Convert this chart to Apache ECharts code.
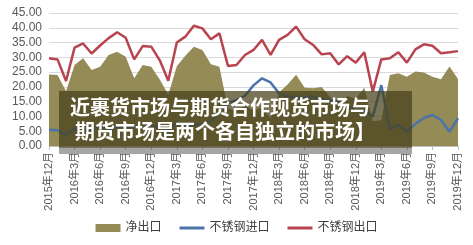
<!DOCTYPE html>
<html>
<head>
<meta charset="utf-8">
<script src="https://cdn.jsdelivr.net/npm/echarts@6/dist/echarts.min.js"></script>
<style>
  html, body { margin: 0; padding: 0; background: #fff; }
  #chart { width: 473px; height: 245px; }
</style>
</head>
<body>
<div id="chart"></div>
<script>
// 2015年12月 .. 2019年12月, monthly
const months = [];
for (let y = 2015, m = 12; y < 2020; ) {
  months.push(y + '年' + m + '月');
  m++;
  if (m > 12) { m = 1; y++; }
  if (y === 2020) break;
}

// 净出口 (area)
const netExport = [24.2, 24.0, 18.5, 27.4, 29.7, 25.7, 26.8, 30.8, 31.9, 30.2,
  22.9, 27.4, 26.8, 22.5, 17.3, 27.0, 30.5, 33.6, 32.5, 27.7,
  26.8, 12.6, 11.9, 13.8, 12.0, 13.0, 9.3, 18.1, 20.8, 24.1,
  19.7, 19.5, 20.0, 16.5, 13.5, 16.9, 16.0, 19.7, 8.4, 8.7,
  24.0, 24.6, 23.4, 25.2, 24.9, 23.4, 22.6, 26.9, 22.7];

// 不锈钢进口
const imports = [5.5, 5.3, 3.7, 5.9, 5.0, 5.6, 6.7, 5.2, 6.6, 6.4,
  6.4, 6.4, 6.8, 6.5, 4.8, 8.0, 6.5, 7.1, 7.3, 8.4,
  11.3, 14.5, 15.5, 17.0, 20.5, 22.9, 21.5, 17.8, 16.8, 16.3,
  16.4, 16.7, 15.8, 15.5, 15.0, 13.5, 12.2, 12.0, 10.0, 20.6,
  5.7, 7.1, 4.8, 7.5, 9.5, 10.5, 8.8, 4.8, 9.4];

// 不锈钢出口
const exports = [29.7, 29.3, 22.0, 33.3, 34.7, 31.3, 34.0, 36.5, 38.5, 36.6,
  29.3, 33.8, 33.6, 29.0, 22.1, 35.0, 37.0, 40.7, 39.8, 36.1,
  38.1, 27.1, 27.4, 30.8, 32.5, 35.9, 30.8, 35.9, 37.6, 40.4,
  36.1, 34.2, 31.0, 31.4, 27.6, 30.4, 28.2, 31.7, 18.4, 29.3,
  29.7, 31.7, 28.2, 32.7, 34.4, 33.9, 31.4, 31.7, 32.1];

const overlayLines = ['近裹货市场与期货合作现货市场与', '期货市场是两个各自独立的市场】'];

const chart = echarts.init(document.getElementById('chart'));
const font = 'Arial, "Liberation Sans", "Noto Sans CJK SC", sans-serif';
const lineIcon = 'path://M0,0L25,0L25,3L0,3Z';

chart.setOption({
  animation: false,
  grid: { left: 49, right: 15, top: 13, bottom: 99 },
  legend: {
    bottom: 6,
    left: 'center',
    itemWidth: 25,
    itemHeight: 8,
    itemGap: 18,
    textStyle: { fontSize: 12, color: '#404040', fontFamily: font },
    data: [
      { name: '净出口', icon: 'rect' },
      { name: '不锈钢进口', icon: lineIcon },
      { name: '不锈钢出口', icon: lineIcon }
    ]
  },
  xAxis: {
    type: 'category',
    data: months,
    boundaryGap: false,
    axisLine: { lineStyle: { color: '#bfbfbf' } },
    axisTick: { interval: 2, length: 4, lineStyle: { color: '#bfbfbf' } },
    axisLabel: {
      interval: 2,
      rotate: 90,
      margin: 6,
      fontSize: 11,
      color: '#595959',
      fontFamily: font
    }
  },
  yAxis: {
    type: 'value',
    min: 0,
    max: 45,
    interval: 5,
    axisLine: { show: false },
    axisTick: { show: false },
    splitLine: { lineStyle: { color: '#d9d9d9' } },
    axisLabel: {
      margin: 7,
      fontSize: 12,
      color: '#595959',
      fontFamily: font,
      formatter: v => v.toFixed(2)
    }
  },
  series: [
    {
      name: '净出口',
      type: 'line',
      data: netExport,
      symbol: 'none',
      lineStyle: { width: 0 },
      itemStyle: { color: '#948b56' },
      areaStyle: { color: '#948b56', opacity: 1 },
      z: 1
    },
    {
      name: '不锈钢进口',
      type: 'line',
      data: imports,
      symbol: 'none',
      itemStyle: { color: '#4a74aa' },
      lineStyle: { width: 2.5, color: '#4a74aa' },
      z: 2
    },
    {
      name: '不锈钢出口',
      type: 'line',
      data: exports,
      symbol: 'none',
      itemStyle: { color: '#b8444f' },
      lineStyle: { width: 2.5, color: '#b8444f' },
      z: 3
    }
  ],
  graphic: [
    {
      type: 'rect',
      left: 59, top: 91,
      shape: { width: 353, height: 57 },
      style: { fill: 'rgba(70,62,25,0.72)' },
      z: 100
    },
    {
      type: 'rect',
      left: 59, top: 148,
      shape: { width: 353, height: 6 },
      style: { fill: 'rgba(0,0,0,0.35)' },
      z: 100
    },
    {
      type: 'text',
      left: 70, top: 97,
      style: {
        text: overlayLines[0],
        fill: '#fff',
        font: 'bold 20px "Noto Sans CJK SC", sans-serif'
      },
      z: 101
    },
    {
      type: 'text',
      left: 75, top: 121,
      style: {
        text: overlayLines[1],
        fill: '#fff',
        font: 'bold 20px "Noto Sans CJK SC", sans-serif'
      },
      z: 101
    }
  ]
});
</script>
</body>
</html>
